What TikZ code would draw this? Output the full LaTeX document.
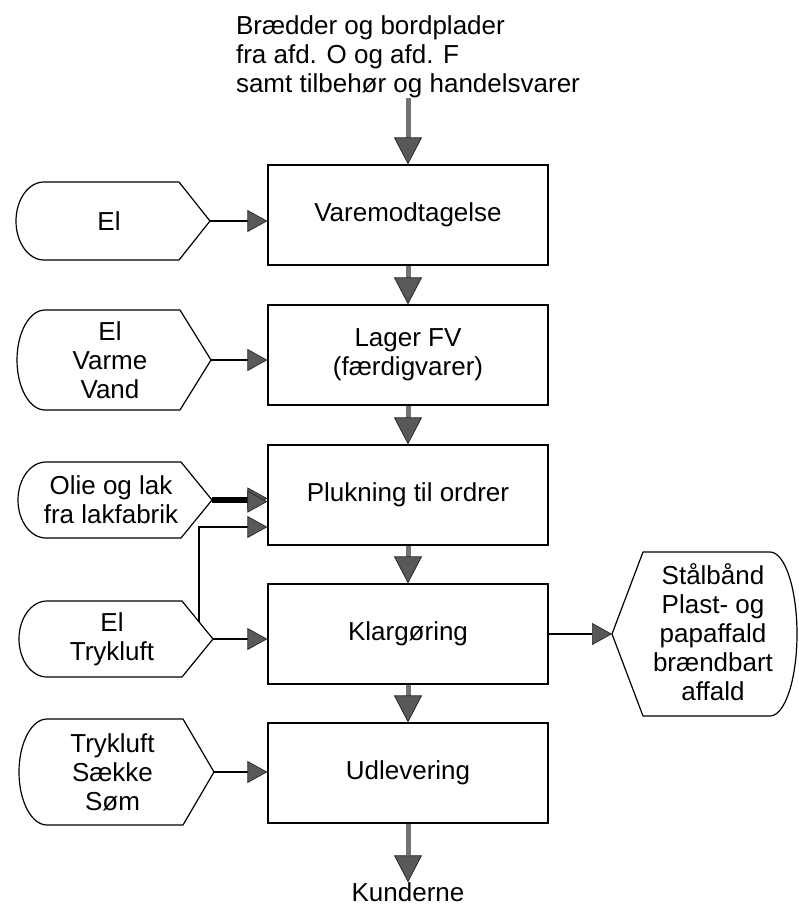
\documentclass[tikz,border=0pt]{standalone}
\usepackage{fontspec}
\setmainfont{Liberation Sans}
\usetikzlibrary{arrows.meta}

% Source shape: rounded on the left, pointed on the right.
% #1 name, #2 left x, #3 tip x, #4 top y, #5 bottom y, #6 text
\newcommand{\srcshape}[6]{%
  \draw[outline] (#2+28,#4) -- (#3-31,#4) -- (#3,{(#4+#5)/2}) -- (#3-31,#5) -- (#2+28,#5)
    .. controls (#2+12.5,#5) and (#2,{(#4+#5)/2+0.276*(#5-#4)}) .. (#2,{(#4+#5)/2})
    .. controls (#2,{(#4+#5)/2-0.276*(#5-#4)}) and (#2+12.5,#4) .. cycle;
  \node (#1) at ({(#2+#3)/2-4},{(#4+#5)/2}) {#6};
  \coordinate (#1-tip) at (#3,{(#4+#5)/2});
  \coordinate (#1-edge) at ({#3-14},{#4+(17/31)*((#5-#4)/2)});
}

\begin{document}
\begin{tikzpicture}[x=1pt,y=-1pt,
  every node/.style={font=\fontsize{26}{29}\selectfont, align=center, inner sep=0pt},
  procbox/.style={draw, line width=1.2pt, minimum width=280pt, minimum height=100pt},
  outline/.style={draw, line width=1.2pt, line join=round},
  flow/.style={line width=5pt, draw=black!55,
    -{Triangle[width=28pt,length=27pt,line width=0.8pt,color=black!85,fill=black!65]}},
  feed/.style={line width=1.3pt,
    -{Triangle[width=22pt,length=20pt,line width=0.7pt,color=black!85,fill=black!65]}},
]
\useasboundingbox (0,0) rectangle (799,906);

% main process column
\node[procbox] (vm) at (408,215) {Varemodtagelse};
\node[procbox] (lg) at (408,355) {Lager FV\\(færdigvarer)};
\node[procbox] (pl) at (408,495) {Plukning til ordrer};
\node[procbox] (kl) at (408,634) {Klargøring};
\node[procbox] (ud) at (408,773) {Udlevering};

% incoming goods and customers
\node[align=left, anchor=south] (src) at (408,98)
  {Brædder og bordplader\\fra afd. O og afd. F\\samt tilbehør og handelsvarer};
\node (kd) at (408,892) {Kunderne};

\draw[flow] (src.south) -- (vm.north);
\draw[flow] (vm.south) -- (lg.north);
\draw[flow] (lg.south) -- (pl.north);
\draw[flow] (pl.south) -- (kl.north);
\draw[flow] (kl.south) -- (ud.north);
\draw[flow] (ud.south) -- (kd.north);

% resources on the left
\srcshape{s1}{16}{210}{182}{260}{El}
\srcshape{s2}{17}{211}{310}{410}{El\\Varme\\Vand}
\srcshape{s3}{18}{212}{462}{538}{Olie og lak\\fra lakfabrik}
\srcshape{s4}{19}{213}{601}{677}{El\\Trykluft}
\srcshape{s5}{19}{214}{719}{825}{Trykluft\\Sække\\Søm}

\draw[feed] (s1-tip) -- (s1-tip -| vm.west);
\draw[feed] (s2-tip) -- (s2-tip -| lg.west);
% doubled supply line: one heavy shaft with two stacked heads
\draw[line width=4.4pt] (s3-tip) -- ([xshift=-18pt]s3-tip -| pl.west);
\draw[feed, line width=2.2pt] ([yshift=1.6pt]s3-tip) -- ([yshift=1.6pt]s3-tip -| pl.west);
\draw[feed, line width=2.2pt] ([yshift=-1.6pt]s3-tip) -- ([yshift=-1.6pt]s3-tip -| pl.west);
\draw[feed] (s4-edge) |- ([yshift=-32pt]pl.west);
\draw[feed] (s4-tip) -- (s4-tip -| kl.west);
\draw[feed] (s5-tip) -- (s5-tip -| ud.west);

% waste output on the right
\draw[outline] (612,634) -- (643,552) -- (770,552)
  .. controls (785,552) and (797,589) .. (797,634)
  .. controls (797,679) and (785,716) .. (770,716) -- (643,716) -- cycle;
\coordinate (out-tip) at (612,634);
\node (out) at (713,632) {Stålbånd\\Plast- og\\papaffald\\brændbart\\affald};
\draw[feed] (kl.east) -- (out-tip);

\end{tikzpicture}
\end{document}
